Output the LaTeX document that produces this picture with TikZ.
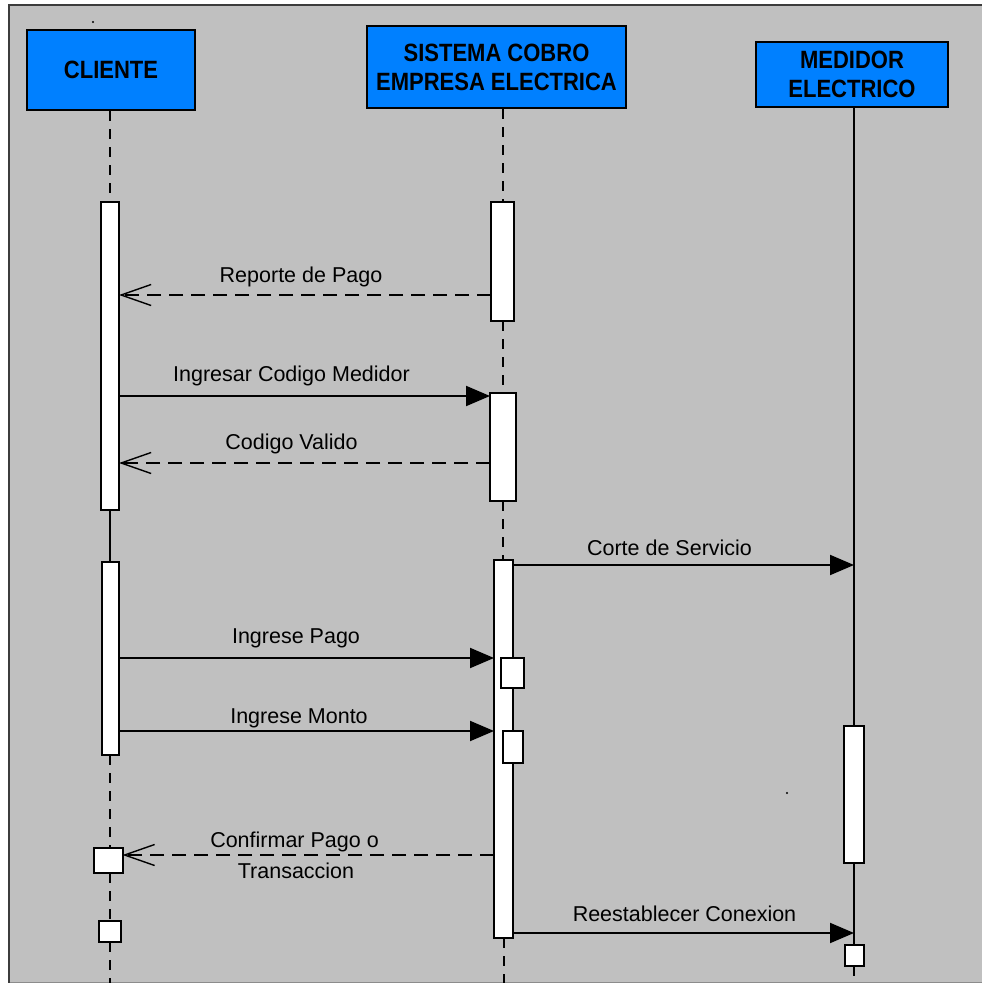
\documentclass[tikz,border=0pt]{standalone}
\usepackage{fontspec}
\setmainfont{Liberation Sans}
\newfontfamily\headfont[FakeStretch=0.88]{Liberation Sans}
\usetikzlibrary{arrows.meta}
\definecolor{panelgray}{HTML}{C0C0C0}
\definecolor{headblue}{HTML}{0080FF}
\definecolor{framedark}{HTML}{3C3C3C}
\definecolor{framelight}{HTML}{8C8C8C}

\begin{document}
\begin{tikzpicture}[x=1pt,y=-1pt,
  head/.style={draw=black,line width=2pt,fill=headblue,align=center,
    font=\headfont\bfseries\fontsize{25}{29}\selectfont,inner sep=0pt},
  act/.style={draw=black,line width=2pt,fill=white,inner sep=0pt,outer sep=0pt},
  lifedash/.style={line width=2pt,dash pattern=on 10pt off 8pt},
  lifesolid/.style={line width=2pt},
  call/.style={line width=2pt,-{Triangle[length=24pt,width=20pt]}},
  reply/.style={line width=2pt,dash pattern=on 14pt off 8pt,
    -{Straight Barb[length=30pt,width=21pt,line width=1.4pt]}},
  msg/.style={font=\fontsize{21.5}{32}\selectfont,inner sep=0pt,anchor=base}
]
\useasboundingbox (0,0) rectangle (982,983);

% panel
\fill[panelgray] (9,5) rectangle (982,983);
\draw[framelight,line width=1pt] (9,982) -- (982,982);
\draw[framedark,line width=2.5pt] (9,983) -- (9,5) -- (982,5);
\fill[black] (93,22) circle (1.1);
\fill[black] (787,793) circle (1.1);

% participants
\node[head,minimum width=168pt,minimum height=80pt] (hC) at (111,70) {CLIENTE};
\node[head,minimum width=259pt,minimum height=82pt] (hS) at (496.5,67) {SISTEMA COBRO\\EMPRESA ELECTRICA};
\node[head,minimum width=192pt,minimum height=65pt] (hM) at (852,74.5) {MEDIDOR\\ELECTRICO};

% activations of CLIENTE
\node[act,minimum width=18pt,minimum height=308pt] (aC1) at (110,356) {};
\node[act,minimum width=17pt,minimum height=193pt] (aC2) at (110,658.5) {};
\node[act,minimum width=29pt,minimum height=25pt] (cC1) at (108,860.5) {};
\node[act,minimum width=22pt,minimum height=21pt] (cC2) at (110,931.5) {};

% activations of SISTEMA
\node[act,minimum width=23pt,minimum height=119pt] (aS1) at (502.5,261.5) {};
\node[act,minimum width=26pt,minimum height=108pt] (aS2) at (503,447) {};
\node[act,minimum width=19pt,minimum height=378pt] (aS3) at (503.5,749) {};
\node[act,minimum width=23pt,minimum height=30pt] (sP) at (512.5,673) {};
\node[act,minimum width=20pt,minimum height=32pt] (sM) at (513,747) {};

% activations of MEDIDOR
\node[act,minimum width=20pt,minimum height=137pt] (aM1) at (854,794.5) {};
\node[act,minimum width=19pt,minimum height=21pt] (mB) at (854,955.5) {};

\coordinate (bot) at (0,983);

% lifelines
\draw[lifedash] (aC1.north |- hC.south) -- (aC1.north);
\draw[lifesolid] (aC1.south) -- (aC2.north);
\draw[lifedash] (aC2.south) -- (aC2.south |- cC1.north);
\draw[lifedash] (aC2.south |- cC1.south) -- (cC2.north);
\draw[lifedash] (cC2.south) -- (cC2.south |- bot);

\draw[lifedash] (aS1.north |- hS.south) -- (aS1.north);
\draw[lifedash] (aS1.south) -- (aS1.south |- aS2.north);
\draw[lifedash] (aS1.south |- aS2.south) -- (aS1.south |- aS3.north);
\draw[lifedash] (aS3.south) -- (aS3.south |- bot);

\draw[lifesolid] (aM1.north |- hM.south) -- (aM1.north);
\draw[lifesolid] (aM1.south) -- (mB.north);
\draw[lifedash] (mB.south) -- (mB.south |- bot);

% messages
\draw[reply] (aS1.west |- 0,295) -- (aC1.east |- 0,295);
\node[msg] (l1) at (301,282) {Reporte de Pago};

\draw[call] (aC1.east |- 0,396) -- (aS2.west |- 0,396);
\node[msg] (l2) at (291.5,381) {Ingresar Codigo Medidor};

\draw[reply] (aS2.west |- 0,463) -- (aC1.east |- 0,463);
\node[msg] (l3) at (291.5,449) {Codigo Valido};

\draw[call] (aS3.east |- 0,565) -- (aM1.north |- 0,565);
\node[msg] (l4) at (669.5,555) {Corte de Servicio};

\draw[call] (aC2.east |- 0,658) -- (aS3.west |- 0,658);
\node[msg] (l5) at (296,643) {Ingrese Pago};

\draw[call] (aC2.east |- 0,731) -- (aS3.west |- 0,731);
\node[msg] (l6) at (299,723) {Ingrese Monto};

\draw[reply] (aS3.west |- 0,855) -- (cC1.east |- 0,855);
\node[msg] (l7a) at (294.5,847) {Confirmar Pago o};
\node[msg] (l7b) at (296,878) {Transaccion};

\draw[call] (aS3.east |- 0,933) -- (mB.north |- 0,933);
\node[msg] (l8) at (684.5,921) {Reestablecer Conexion};
\end{tikzpicture}
\end{document}
